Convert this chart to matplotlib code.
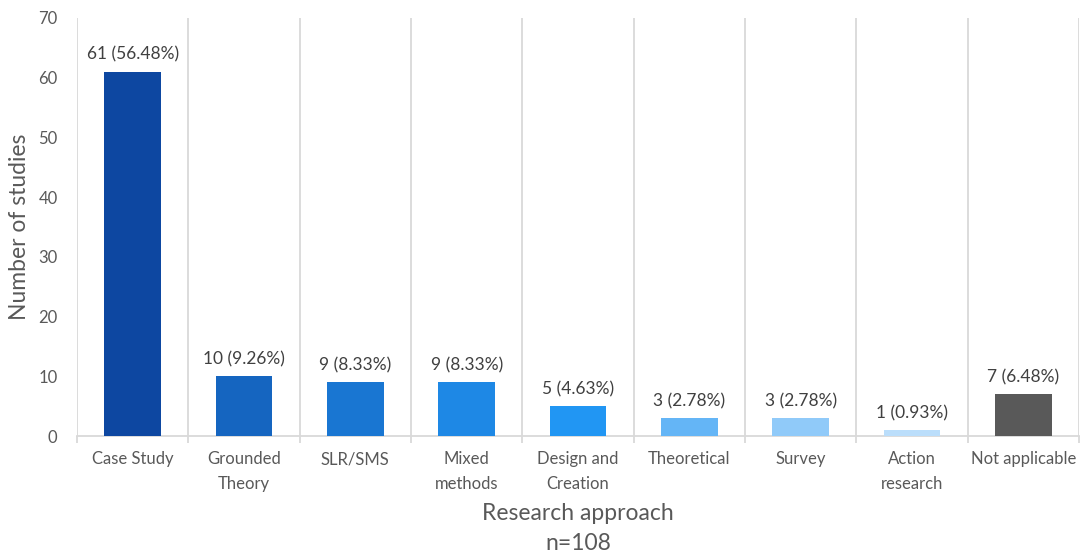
import matplotlib.pyplot as plt
import numpy as np

approaches = ["Case Study", "Grounded\nTheory", "SLR/SMS", "Mixed\nmethods",
              "Design and\nCreation", "Theoretical", "Survey", "Action\nresearch",
              "Not applicable"]
studies = [61, 10, 9, 9, 5, 3, 3, 1, 7]
total = 108
colors = ["#0D47A1", "#1565C0", "#1976D2", "#1E88E5", "#2196F3",
          "#64B5F6", "#90CAF9", "#BBDEFB", "#595959"]

plt.rcParams["font.family"] = ["Lato", "DejaVu Sans"]
text_col = "#595959"
grid_col = "#D9D9D9"

fig = plt.figure(figsize=(10.84, 5.59), dpi=100)
ax = fig.add_axes([0.071, 0.22, 0.9245, 0.748])

x = np.arange(len(studies))
ax.bar(x, studies, width=0.51, color=colors, zorder=3)

for xi, v in zip(x, studies):
    ax.text(xi, v + 1.5, f"{v} ({v / total * 100:.2f}%)", ha="center", va="bottom",
            fontsize=12.5, color="#404040")

ax.set_xlim(-0.5, len(studies) - 0.5)
ax.set_ylim(0, 70)
ax.set_yticks(range(0, 71, 10))
ax.set_xticks(x)
ax.set_xticklabels(approaches, fontsize=12, color=text_col, linespacing=1.65, va="top")
ax.tick_params(axis="x", which="major", length=0, pad=11)
ax.set_xticks(np.arange(-0.5, len(studies)), minor=True)
ax.tick_params(axis="x", which="minor", length=5, color=grid_col, width=1.3)
ax.tick_params(axis="y", length=0, labelsize=12, labelcolor=text_col, pad=14)
ax.grid(axis="x", which="minor", color=grid_col, linewidth=1.3, zorder=0)

for s in ["top", "right", "left"]:
    ax.spines[s].set_visible(False)
ax.spines["bottom"].set_color(grid_col)
ax.spines["bottom"].set_linewidth(1.3)

ax.set_ylabel("Number of studies", fontsize=16.5, color=text_col, labelpad=6)
ax.set_xlabel(f"Research approach\nn={total}", fontsize=16.5, color=text_col,
              labelpad=8, linespacing=1.55)

fig.savefig("out.png", dpi=100)
